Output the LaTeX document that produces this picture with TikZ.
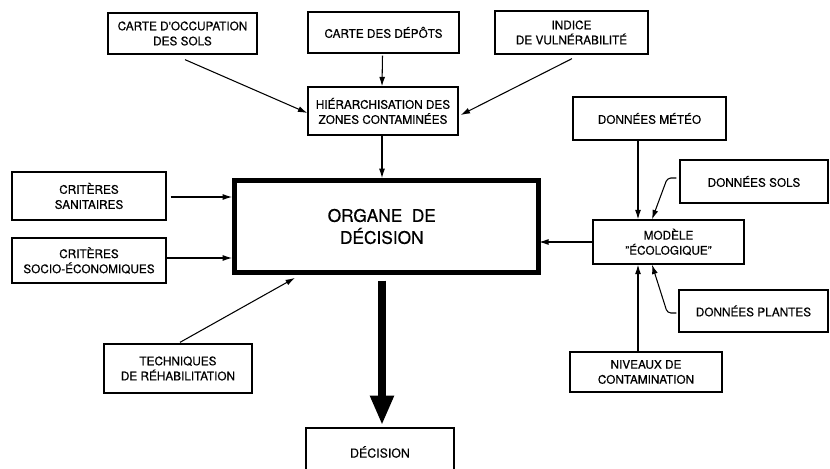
\documentclass[tikz,border=0pt]{standalone}
\usepackage{fontspec}
\setmainfont{TeX Gyre Heros}[FakeBold=0.5]
\usetikzlibrary{arrows.meta}
\begin{document}
\begin{tikzpicture}[x=0.85pt,y=-0.85pt,
  sz/.style 2 args={minimum width=#1*0.85pt,minimum height=#2*0.85pt},
  box/.style={draw,line width=1.1pt,inner sep=0pt,align=center,
    font=\fontsize{10}{12.8}\selectfont},
  arr/.style={line width=0.9pt,-{Latex[length=8pt,width=5pt]}},
  bigarr/.style={line width=6pt,-{Triangle[length=25pt,width=19pt]}}]
\useasboundingbox (0,0) rectangle (830,469);
\clip (0,0) rectangle (830,469);
% top row
\node[box,sz={149}{41}] (occ) at (182.5,33.5) {CARTE D\textquotesingle OCCUPATION\\DES SOLS};
\node[box,sz={151}{41}] (dep) at (383.5,32.5) {CARTE DES DÉPÔTS};
\node[box,sz={153}{43}] (ind) at (571.5,32.5) {INDICE\\DE VULNÉRABILITÉ};
\node[box,sz={150}{48}] (hier) at (383,111) {HIÉRARCHISATION DES\\ZONES CONTAMINÉES};
% centre
\node[draw,line width=4pt,sz={304}{92},align=center,
  font=\fontsize{14.7}{18.7}\selectfont] (org) at (386.5,226.5) {\hspace*{-8pt}ORGANE\hspace{0.55em}DE\\\hspace*{-8pt}DÉCISION};
% left
\node[box,sz={154}{48}] (san) at (89,196) {CRITÈRES\\SANITAIRES};
\node[box,sz={154}{45}] (soc) at (89,260.5) {CRITÈRES\\SOCIO-ÉCONOMIQUES};
\node[box,sz={148}{49}] (tech) at (178,368.5) {TECHNIQUES\\DE RÉHABILITATION};
% right
\node[box,sz={153}{43}] (met) at (649.5,118.5) {DONNÉES MÉTÉO};
\node[box,sz={148}{43}] (sols) at (754,181.5) {DONNÉES SOLS};
\node[box,sz={151}{44}] (mod) at (668.5,242) {MODÈLE\\"ÉCOLOGIQUE"};
\node[box,sz={149}{42}] (pla) at (753.5,311) {DONNÉES PLANTES};
\node[box,sz={152}{40}] (niv) at (646,372) {NIVEAUX DE\\CONTAMINATION};
% bottom
\node[box,sz={148}{48},font=\fontsize{10.5}{12.8}\selectfont] (dec) at (380,452) {DÉCISION};
% helper coordinates
\coordinate (sanout) at ([shift={(4,1)}]san.east);
\coordinate (socout) at ([shift={(0,-2.5)}]soc.east);
\coordinate (vx) at ([shift={(-1,0)}]hier.south);
% arrows top
\draw[arr] ([shift={(2.5,5)}]occ.south) -- ([shift={(0,2)}]hier.west);
\draw[arr] ([shift={(-1,2)}]dep.south) -- ([shift={(-1,0)}]hier.north);
\draw[arr] ([shift={(0.5,4)}]ind.south) -- ([shift={(2,4)}]hier.east);
\draw[arr] (vx) -- (vx |- org.north);
% arrows left
\draw[arr] (sanout) -- (org.west |- sanout);
\draw[arr] (socout) -- (org.west |- socout);
\draw[arr] ([shift={(2,-1)}]tech.north) -- ([shift={(-91.5,3)}]org.south);
% big arrow
\draw[bigarr] ([yshift=-5pt]vx |- org.south) -- ([yshift=2pt]vx |- dec.north);
% right
\draw[arr] (mod.west) -- ([xshift=-1.5pt]org.east |- mod.west);
\draw[arr] ([shift={(-11.5,0)}]met.south) -- ([shift={(-30.5,0)}]mod.north);
\draw[arr] ([shift={(-8,0)}]niv.north) -- ([shift={(-30.5,0)}]mod.south);
\draw[arr,rounded corners=3] ([shift={(-3,-3.5)}]sols.west) -- ++(-9,0) -- ([shift={(-16.5,0)}]mod.north);
\draw[arr,rounded corners=3] ([shift={(-2,2)}]pla.west) -- ++(-9,0) -- ([shift={(-16.5,0)}]mod.south);
\end{tikzpicture}
\end{document}
